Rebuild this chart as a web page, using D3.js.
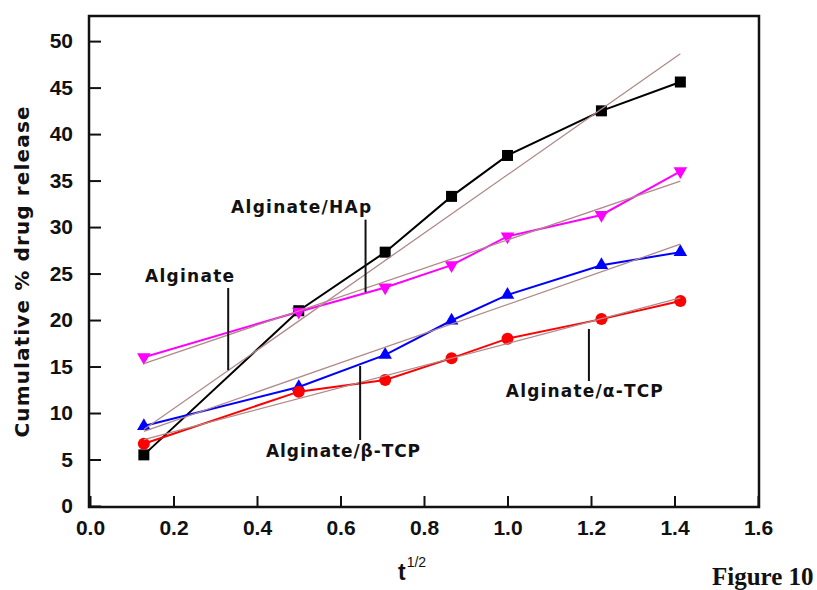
<!DOCTYPE html>
<html lang="en">
<head>
<meta charset="utf-8">
<title>Figure 10</title>
<script src="https://cdn.jsdelivr.net/npm/d3@7"></script>
<style>
  body { margin: 0; background: #fff; }
  .axis text { font-family: "Liberation Sans", Arial, sans-serif; font-size: 21px; font-weight: bold; fill: #111; }
  .axis line { stroke: #111; stroke-width: 2; }
  .axis path { display: none; }
</style>
</head>
<body>
<script>
// t^1/2 sampling points
var tSqrt = [0.129, 0.5, 0.707, 0.866, 1.0, 1.225, 1.414];

// cumulative % drug release
var hap   = [5.5, 21.0, 27.3, 33.3, 37.7, 42.5, 45.6];
var alg   = [16.0, 20.9, 23.5, 25.9, 29.0, 31.3, 36.0];
var bTcp  = [8.6, 12.8, 16.25, 19.95, 22.7, 25.9, 27.3];
var aTcp  = [6.7, 12.3, 13.55, 15.9, 18.0, 20.1, 22.05];

var xTicks = [0, 0.2, 0.4, 0.6, 0.8, 1.0, 1.2, 1.4, 1.6];
var yTicks = [0, 5, 10, 15, 20, 25, 30, 35, 40, 45, 50];

// label text, anchor (data units), leader line (data units)
var notes = [
  {text: "Alginate/HAp",   x: 0.338, y: 31.5,  w: 140, lx: 0.660, ly1: 30.8,  ly2: 23.0},
  {text: "Alginate",       x: 0.132, y: 24.1,  w: 89,  lx: 0.331, ly1: 23.45, ly2: 14.6},
  {text: "Alginate/\u03b2-TCP", x: 0.4216, y: 5.27, w: 154, lx: 0.647, ly1: 15.06, ly2: 7.1},
  {text: "Alginate/\u03b1-TCP", x: 0.996,  y: 11.72, w: 157, lx: 1.195, ly1: 19.04, ly2: 13.44}
];

var W = 817, H = 590;
var pL = 90, pR = 758, pT = 16, pB = 506; // plot edges

var x = d3.scaleLinear().domain([0, 1.6]).range([pL, pR]);
var y = d3.scaleLinear().domain([0, 52.7]).range([pB, pT]);

var svg = d3.select("body").append("svg").attr("width", W).attr("height", H);

// axes, ticks pointing inward
svg.append("g").attr("class", "axis")
  .attr("transform", "translate(" + pL + ",0)")
  .call(d3.axisLeft(y).tickValues(yTicks).tickFormat(d3.format("d"))
    .tickSizeInner(-11).tickSizeOuter(0).tickPadding(17));

svg.append("g").attr("class", "axis")
  .attr("transform", "translate(0," + pB + ")")
  .call(d3.axisBottom(x).tickValues(xTicks).tickFormat(d3.format(".1f"))
    .tickSizeInner(-10).tickSizeOuter(0).tickPadding(14));

// frame
svg.append("rect")
  .attr("x", pL - 1).attr("y", pT)
  .attr("width", pR - pL + 2).attr("height", pB - pT + 1)
  .attr("fill", "none").attr("stroke", "#111").attr("stroke-width", 2.5);

function fit(xs, ys) {
  var mx = d3.mean(xs), my = d3.mean(ys), sxy = 0, sxx = 0;
  xs.forEach(function(v, i) { sxy += (v - mx) * (ys[i] - my); sxx += (v - mx) * (v - mx); });
  var b = sxy / sxx, a = my - b * mx;
  return [[xs[0], a + b * xs[0]], [xs[xs.length - 1], a + b * xs[xs.length - 1]]];
}

var series = [
  {vals: hap,  color: "#000000", sym: "square"},
  {vals: alg,  color: "#ff00ff", sym: "down"},
  {vals: bTcp, color: "#0000ff", sym: "up"},
  {vals: aTcp, color: "#ff0000", sym: "circle"}
];

var line = d3.line().x(function(d) { return x(d[0]); }).y(function(d) { return y(d[1]); });

series.forEach(function(s) {
  var pts = tSqrt.map(function(t, i) { return [t, s.vals[i]]; });
  svg.append("path").attr("d", line(pts))
    .attr("fill", "none").attr("stroke", s.color).attr("stroke-width", 2);

  var g = svg.append("g");
  pts.forEach(function(p) {
    var cx = x(p[0]), cy = y(p[1]);
    if (s.sym == "square") {
      g.append("rect").attr("x", cx - 5.5).attr("y", cy - 5.5)
        .attr("width", 11).attr("height", 11).attr("fill", s.color);
    } else if (s.sym == "circle") {
      g.append("circle").attr("cx", cx).attr("cy", cy).attr("r", 6).attr("fill", s.color);
    } else {
      var rot = s.sym == "down" ? 180 : 0;
      g.append("path").attr("d", d3.symbol(d3.symbolTriangle, 80)())
        .attr("transform", "translate(" + cx + "," + cy + ") rotate(" + rot + ")")
        .attr("fill", s.color);
    }
  });
});

// linear fits on top
series.forEach(function(s) {
  svg.append("path").attr("d", line(fit(tSqrt, s.vals)))
    .attr("fill", "none").attr("stroke", "#b08a8a").attr("stroke-width", 1.3);
});

// annotations
notes.forEach(function(n) {
  svg.append("line")
    .attr("x1", x(n.lx)).attr("x2", x(n.lx))
    .attr("y1", y(n.ly1)).attr("y2", y(n.ly2))
    .attr("stroke", "#111").attr("stroke-width", 2);
  svg.append("text").text(n.text)
    .attr("x", x(n.x)).attr("y", y(n.y))
    .attr("textLength", n.w).attr("lengthAdjust", "spacing")
    .attr("font-family", "DejaVu Sans, sans-serif")
    .attr("font-size", "17px").attr("font-weight", "bold").attr("fill", "#111");
});

// axis titles
svg.append("text").text("Cumulative % drug release")
  .attr("transform", "translate(29,272) rotate(-90)")
  .attr("text-anchor", "middle")
  .attr("textLength", 331).attr("lengthAdjust", "spacing")
  .attr("font-family", "DejaVu Sans, sans-serif")
  .attr("font-size", "20px").attr("font-weight", "bold").attr("fill", "#111");

var xt = svg.append("text").attr("x", 398).attr("y", 580)
  .attr("font-family", "Liberation Sans, Arial, sans-serif").attr("fill", "#111");
xt.append("tspan").text("t").attr("font-size", "23px").attr("font-weight", "bold");
xt.append("tspan").text("1/2").attr("font-size", "14px").attr("dy", -13).attr("dx", 1);

svg.append("text").text("Figure 10")
  .attr("x", 712).attr("y", 585)
  .attr("font-family", "Liberation Serif, Times New Roman, serif")
  .attr("font-size", "25px").attr("font-weight", "bold").attr("fill", "#111");
</script>
</body>
</html>
